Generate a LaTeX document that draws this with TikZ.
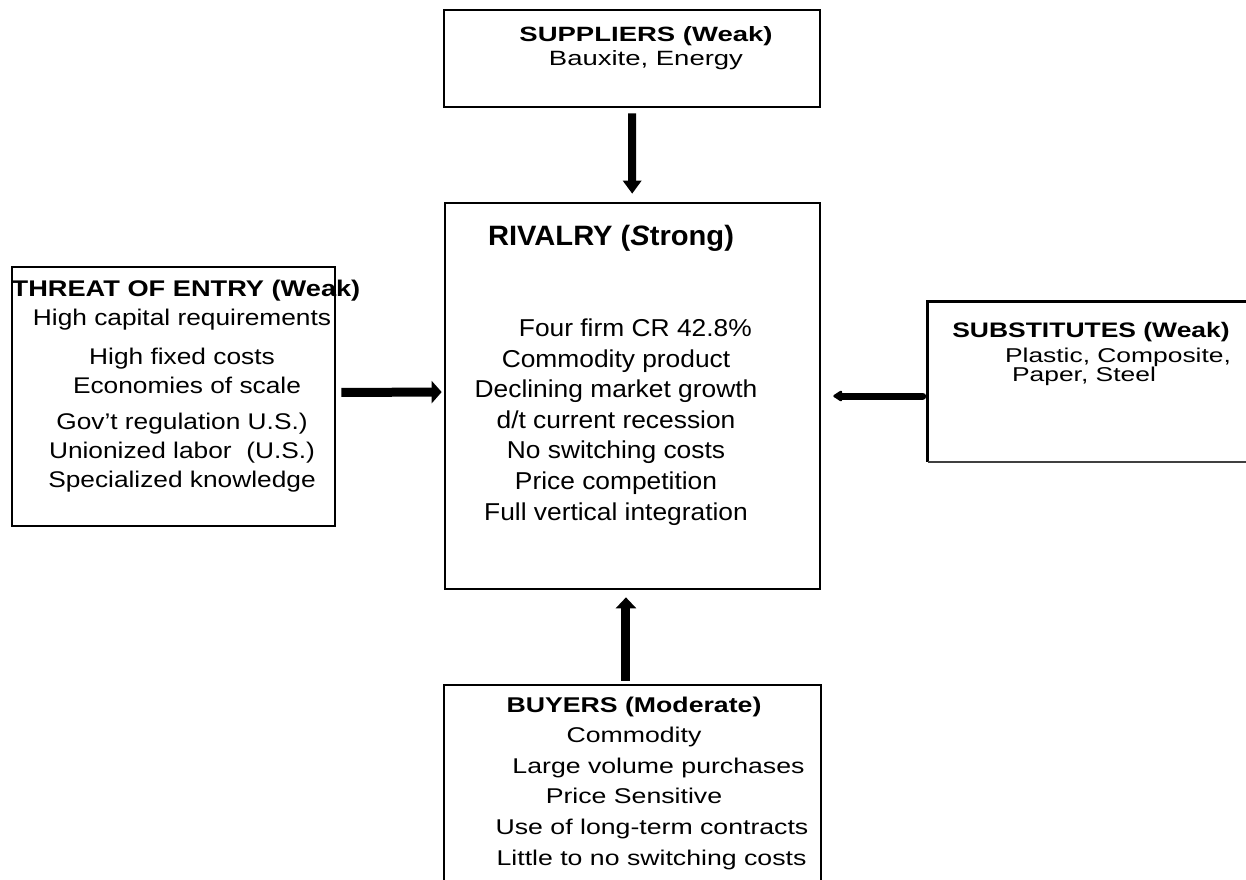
\documentclass[tikz,border=0pt]{standalone}
\usepackage{fontspec}
\setmainfont{Liberation Sans}[FakeStretch=1.3]
\newfontfamily\fSup{Liberation Sans}[FakeStretch=1.33]
\newfontfamily\fThr{Liberation Sans}[FakeStretch=1.16]
\newfontfamily\fThrH{Liberation Sans}[FakeStretch=1.2]
\newfontfamily\fRivH{Liberation Sans}[FakeStretch=1.04]
\newfontfamily\fRiv{Liberation Sans}[FakeStretch=1.08]
\newfontfamily\fSubH{Liberation Sans}[FakeStretch=1.26]
\newfontfamily\fSub{Liberation Sans}[FakeStretch=1.32]
\newfontfamily\fBuy{Liberation Sans}[FakeStretch=1.25]
\usetikzlibrary{arrows.meta}
\begin{document}
\lineskiplimit=-100pt
\begin{tikzpicture}[x=0.75pt,y=-0.75pt,
  box/.style={draw=black,line width=2pt,inner sep=0pt},
  txt/.style={inner sep=0pt,align=center,anchor=base},
  fat/.style={line width=#1,draw=black}
]
\path[use as bounding box] (0,0) rectangle (1246,879);
\clip (0,0) rectangle (1246,879);

% boxes
\node[box,minimum width=282pt,minimum height=72.75pt] (sup) at (632,58.5) {};
\node[box,minimum width=281.25pt,minimum height=289.5pt] (riv) at (632.5,396) {};
\node[box,minimum width=242.25pt,minimum height=194.25pt] (thr) at (173.5,396.5) {};
\node[box,minimum width=282.75pt,minimum height=161.25pt] (buy) at (632.5,792.5) {};
\node[inner sep=0pt,minimum width=256.5pt,minimum height=120pt] (sub) at (1099,382) {};
\draw[line width=2pt] (sub.north east) -- (sub.north west) -- (sub.south west);
\draw[line width=1.2pt,black!75] (sub.south west) -- (sub.south east);

% texts (anchor base = baseline of the last line)
\node[txt,font=\fSup\fontsize{15.5pt}{18pt}\selectfont] (supt) at (646,65)
  {\textbf{SUPPLIERS (Weak)}\\Bauxite, Energy};
\node[txt,font=\fRivH\fontsize{21pt}{25pt}\selectfont] (rivh) at (611,245)
  {\textbf{RIVALRY (\textit{S}trong)}};
\node[txt,font=\fRiv\fontsize{18.3pt}{22.9pt}\selectfont] (rivt) at (616,520)
  {\hspace*{29pt}Four firm CR 42.8\%\\
Commodity product\\
Declining market growth\\
d/t current recession\\
No switching costs\\
Price competition\\
Full vertical integration};
\node[txt,font=\fThr\fontsize{17pt}{21.75pt}\selectfont] (thrt) at (182,487)
  {\hspace*{6pt}{\fThrH\bfseries THREAT OF ENTRY (Weak)}\\
High capital requirements\\[7.5pt]
High fixed costs\\
\hspace*{7.5pt}Economies of scale\\[5.25pt]
Gov’t regulation U.S.)\\
Unionized labor~~(U.S.)\hspace*{12pt}\\
Specialized knowledge};
\node[txt,font=\fSubH\fontsize{15.75pt}{19pt}\selectfont] (subh) at (1091,337)
  {\textbf{SUBSTITUTES (Weak)}};
\node[txt,font=\fSub\fontsize{15pt}{14.25pt}\selectfont] (subt) at (1084,381)
  {\hspace*{51pt}Plastic, Composite,\\Paper, Steel};
\node[txt,font=\fBuy\fontsize{16pt}{22.95pt}\selectfont] (buyt) at (634,865)
  {\textbf{BUYERS (Moderate)}\\
Commodity\\
\hspace*{36.75pt}Large volume purchases\\
Price Sensitive\\
\hspace*{27pt}Use of long-term contracts\\
\hspace*{26.25pt}Little to no switching costs};

% arrows
\draw[fat=6pt,-{Triangle[length=9.75pt,width=13.5pt]},
  shorten <=3.75pt,shorten >=6pt] (sup) -- (riv);
\draw[fat=6.75pt,-{Triangle[length=7.5pt,width=16.5pt]},
  shorten <=3.75pt,shorten >=1.5pt] ([yshift=3pt]thr.east) -- ([yshift=3pt]riv.west);
\draw[fat=6.75pt,-{Triangle[length=8.25pt,width=15pt]},
  shorten <=2.25pt,shorten >=5.25pt] ([xshift=-4.9pt]buy.north) -- ([xshift=-4.9pt]riv.south);
\draw[fat=5.25pt,line cap=round,-{Triangle[length=7.5pt,width=9pt,round]},
  shorten <=3.75pt,shorten >=9pt] (sub.west |- riv.east) -- (riv.east);
\end{tikzpicture}
\end{document}
